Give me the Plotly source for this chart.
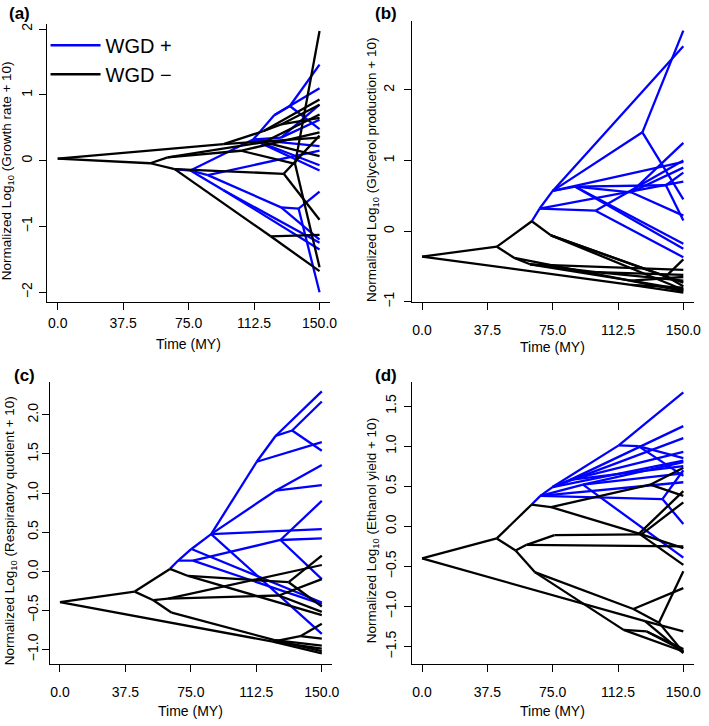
import plotly.graph_objects as go

# ---------------- data ----------------
# Each panel: internal nodes (time, value, parent index, WGD flag) and tips at 150 MY
# (value, parent index). Tip colour follows its parent node's WGD flag.
TIP_TIME = 150.0

# Panel (a) Growth rate
a_node_t = [0, 53, 95, 67, 63, 122, 118, 128, 105, 136, 118, 129.5,
            76, 86, 112, 124, 133, 128, 128, 138, 95]
a_node_y = [0.03, -0.04, 0.25, -0.13, 0.05, -1.15, 0.45, 0.55, 0.15, -0.05, 0.28, -0.20,
            -0.15, -0.22, 0.32, 0.69, 0.83, 0.35, -0.71, -0.73, -0.45]
a_node_parent = [-1, 0, 0, 1, 1, 3, 2, 6, 4, 8, 4, 3,
                 3, 12, 12, 14, 15, 14, 13, 18, 12]
a_node_wgd = [0, 0, 0, 0, 0, 0, 0, 0, 0, 0, 0, 0,
              1, 1, 1, 1, 1, 1, 1, 1, 1]
a_tip_y = [0.93, 0.85, 0.65, 0.35, 0.43, 1.97, -1.62, 0.70, 0.07, -1.13, -1.68, -0.90, 0.38,
           1.46, 0.48, 1.10, 0.62, 0.85, 0.22, -0.07, -0.15, 0.15, -1.20, -0.47, -2.00, -1.25, -1.35]
a_tip_parent = [6, 7, 7, 2, 8, 9, 9, 10, 10, 5, 5, 11, 11,
                16, 16, 15, 17, 17, 14, 14, 14, 13, 18, 19, 19, 20, 20]

# Panel (b) Glycerol production
b_node_t = [0, 43, 53, 63, 62, 120, 74, 100, 120, 140,
            67.5, 75, 99.6, 126.5, 88, 120, 140]
b_node_y = [-0.36, -0.22, -0.38, 0.14, -0.47, -0.76, -0.06, -0.58, -0.70, -0.64,
            0.32, 0.57, 0.29, 1.40, 0.63, 0.55, 0.65]
b_node_parent = [-1, 0, 1, 1, 2, 0, 3, 4, 4, 6,
                 3, 10, 10, 11, 11, 14, 14]
b_node_wgd = [0, 0, 0, 0, 0, 0, 0, 0, 0, 0,
              1, 1, 1, 1, 1, 1, 1]
b_tip_y = [-0.87, -0.80, -0.55, -0.62, -0.70, -0.65, -0.83, -0.40, -0.78, -0.73, -0.85, -0.83,
           2.62, 0.98, 2.84, 0.45, 0.70, 1.00, -0.37, -0.18, 1.25, 0.22, 0.83, 0.15, -0.25, 0.90]
b_tip_parent = [5, 5, 4, 7, 7, 8, 8, 9, 9, 6, 2, 6,
                11, 11, 13, 13, 10, 12, 12, 14, 15, 15, 16, 16, 14, 15]

# Panel (c) Respiratory quotient
c_node_t = [0, 42.8, 63, 53.5, 73.4, 122, 131, 64, 62, 125.4, 137.7, 123,
            67.7, 75.3, 86.6, 112.7, 123.5, 133, 123.5, 76.2, 126.3]
c_node_y = [-0.395, -0.26, 0.03, -0.37, -0.06, -0.90, -0.14, -0.53, -0.35, -0.31, -0.83, -0.88,
            0.137, 0.285, 0.475, 1.40, 1.73, 1.80, 1.03, 0.137, 0.40]
c_node_parent = [-1, 0, 1, 1, 2, 0, 4, 3, 3, 8, 5, 7,
                 2, 12, 13, 14, 15, 16, 14, 12, 19]
c_node_wgd = [0, 0, 0, 0, 0, 0, 0, 0, 0, 0, 0, 0,
              1, 1, 1, 1, 1, 1, 1, 1, 1]
c_tip_y = [0.20, -0.45, -0.56, 0.08, -0.10, -0.52, -0.95, -1.02, -0.67, -0.86, -0.99, -1.05,
           2.30, 2.17, 1.54, 1.65, 1.36, 1.10, 0.54, -0.80, 0.90, -0.10, 0.42, -0.42, -0.40]
c_tip_parent = [6, 6, 4, 8, 9, 9, 11, 11, 10, 10, 5, 5,
                16, 17, 17, 15, 18, 18, 14, 14, 20, 20, 20, 19, 13]

# Panel (d) Ethanol yield
d_node_t = [0, 42.9, 53.7, 62.8, 74.1, 64.7, 60, 76, 126, 131, 124.6, 121.3, 115.7, 136, 129, 128,
            67.9, 74.9, 112.9, 124.2, 92.4, 138, 85]
d_node_y = [-0.40, -0.15, -0.30, 0.27, 0.24, -0.57, -0.23, -0.11, -0.10, 0.52, -0.09, -1.03, -1.29,
            -1.20, -1.31, -1.18,
            0.38, 0.49, 1.01, 1.00, 0.52, 0.34, 0.58]
d_node_parent = [-1, 0, 1, 1, 3, 2, 2, 6, 7, 4, 4, 5, 5, 11, 12, 0,
                 3, 16, 17, 18, 16, 16, 17]
d_node_wgd = [0, 0, 0, 0, 0, 0, 0, 0, 0, 0, 0, 0, 0, 0, 0, 0,
              1, 1, 1, 1, 1, 1, 1]
d_tip_y = [0.73, 0.38, 0.44, -0.48, 0.30, -0.27, -0.25, -0.77, -0.56, -1.57, -1.56, -1.55, -1.53,
           -1.31, -1.58,
           1.67, 0.85, 1.25, 0.93, 1.10, 0.80, -0.39, 0.03, 0.70, 0.82, 0.75, 0.66, 0.63, 0.55]
d_tip_parent = [9, 9, 10, 10, 8, 8, 6, 11, 13, 13, 12, 14, 14, 15, 15,
                18, 19, 22, 22, 17, 20, 20, 21, 21, 17, 22, 20, 19, 16]

panel_letters = ["(a)", "(b)", "(c)", "(d)"]
y_titles = ["Normalized Log<sub>10</sub> (Growth rate + 10)",
            "Normalized Log<sub>10</sub> (Glycerol production + 10)",
            "Normalized Log<sub>10</sub> (Respiratory quotient + 10)",
            "Normalized Log<sub>10</sub> (Ethanol yield + 10)"]
x_title = "Time (MY)"
x_ticks = [0, 37.5, 75, 112.5, 150]
y_ticks = [[-2, -1, 0, 1, 2], [-1, 0, 1, 2],
           [-1.0, -0.5, 0.0, 0.5, 1.0, 1.5, 2.0], [-1.5, -1.0, -0.5, 0.0, 0.5, 1.0, 1.5]]
y_formats = ["d", "d", ".1f", ".1f"]
legend_names = ["WGD +", "WGD \u2212"]

panels = [
    (a_node_t, a_node_y, a_node_parent, a_node_wgd, a_tip_y, a_tip_parent),
    (b_node_t, b_node_y, b_node_parent, b_node_wgd, b_tip_y, b_tip_parent),
    (c_node_t, c_node_y, c_node_parent, c_node_wgd, c_tip_y, c_tip_parent),
    (d_node_t, d_node_y, d_node_parent, d_node_wgd, d_tip_y, d_tip_parent),
]

# ---------------- layout geometry (pixels of a 709 x 726 page) ----------------
W, H = 709, 726
x_dom_px = [(47.7, 333.3), (415.7, 700.7), (50.0, 335.6), (415.7, 700.7)]
y_dom_px = [(23, 304), (20, 304), (384.7, 669), (384.7, 669)]
y_ranges = [[-2.15, 2.08], [-1.005, 2.98], [-1.18, 2.42], [-1.71, 1.80]]
x_standoff = [1, 8, 9, 9]
y_standoff = [2, 4, -2, 2]
x_title_shift = [-42, -45, -47, -47]
label_pos = [(7, 13), (377, 13), (12, 378), (377, 378)]
FONT = "Liberation Sans, Arial, sans-serif"
FS = 14
BLUE = "#0000FF"

fig = go.Figure()

for k, (nt, ny, npar, nw, ty, tpar) in enumerate(panels):
    segs = {0: ([], []), 1: ([], [])}
    for i in range(len(nt)):
        p = npar[i]
        if p < 0:
            continue
        xs, ys = segs[nw[i]]
        xs += [nt[p], nt[i], None]
        ys += [ny[p], ny[i], None]
    for v, p in zip(ty, tpar):
        xs, ys = segs[nw[p]]
        xs += [nt[p], TIP_TIME, None]
        ys += [ny[p], v, None]
    ax = "" if k == 0 else str(k + 1)
    for flag in (1, 0):
        xs, ys = segs[flag]
        fig.add_trace(go.Scatter(
            x=xs, y=ys, mode="lines",
            line=dict(color=BLUE if flag else "black", width=2.3),
            name=legend_names[0] if flag else legend_names[1],
            showlegend=(k == 0),
            hoverinfo="skip",
            xaxis="x" + ax, yaxis="y" + ax,
        ))

layout = dict(
    width=W, height=H, margin=dict(l=0, r=0, t=0, b=0),
    paper_bgcolor="white", plot_bgcolor="white",
    font=dict(family=FONT, size=FS, color="black"),
    showlegend=True,
    legend=dict(x=46 / W, y=1 - 25 / H, xanchor="left", yanchor="top",
                font=dict(size=20, family=FONT), bgcolor="rgba(0,0,0,0)",
                itemwidth=50, tracegroupgap=0),
)
annotations = []
for k in range(4):
    ax = "" if k == 0 else str(k + 1)
    x0, x1 = x_dom_px[k]
    y0, y1 = y_dom_px[k]
    layout["xaxis" + ax] = dict(
        domain=[x0 / W, x1 / W], range=[-6, 156], anchor="y" + ax,
        tickvals=x_ticks, tickformat=".1f", ticks="outside", ticklen=7,
        tickcolor="black", showline=True, linecolor="black", linewidth=1,
        showgrid=False, zeroline=False, tickfont=dict(size=FS),
        ticklabelstandoff=x_standoff[k], ticklabeloverflow="allow",
    )
    layout["yaxis" + ax] = dict(
        domain=[1 - y1 / H, 1 - y0 / H], range=y_ranges[k], anchor="x" + ax,
        tickvals=y_ticks[k], tickformat=y_formats[k], ticks="outside", ticklen=7,
        tickcolor="black", showline=True, linecolor="black", linewidth=1,
        showgrid=False, zeroline=False, tickangle=-90, tickfont=dict(size=FS),
        ticklabelstandoff=y_standoff[k], ticklabeloverflow="allow",
    )
    annotations.append(dict(
        text=x_title, xref="x" + ax + " domain", yref="y" + ax + " domain",
        x=0.5, y=0, xanchor="center", yanchor="middle", yshift=x_title_shift[k],
        showarrow=False, font=dict(size=FS)))
    annotations.append(dict(
        text=y_titles[k], xref="x" + ax + " domain", yref="y" + ax + " domain",
        x=0, y=0.5, xanchor="center", yanchor="middle", xshift=-39, yshift=-8,
        textangle=-90, showarrow=False, font=dict(size=13.5)))
    lx, ly = label_pos[k]
    annotations.append(dict(
        text="<b>" + panel_letters[k] + "</b>", xref="paper", yref="paper",
        x=lx / W, y=1 - ly / H, xanchor="left", yanchor="middle",
        showarrow=False, font=dict(size=17)))
layout["annotations"] = annotations
fig.update_layout(**layout)
fig.write_html("out.html", config={"displayModeBar": False},
               post_script="document.body.style.margin='0';document.body.style.overflow='hidden';")
